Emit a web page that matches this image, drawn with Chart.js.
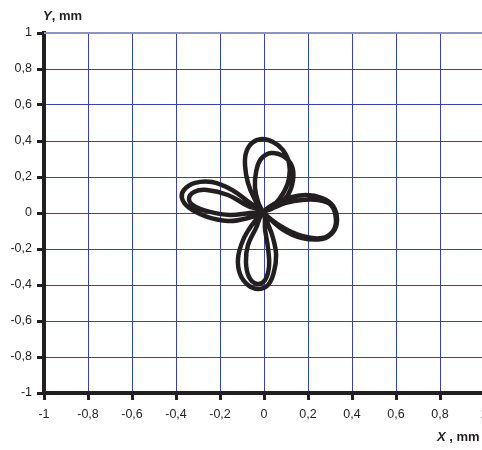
<!DOCTYPE html>
<html>
<head>
<meta charset="utf-8">
<script src="https://cdn.jsdelivr.net/npm/chart.js@4/dist/chart.umd.min.js"></script>
<style>
  html, body { margin: 0; padding: 0; overflow: hidden; background: #fff; }
  #wrap { width: 500px; height: 450px; }
</style>
</head>
<body>
<div id="wrap"><canvas id="c" width="500" height="450"></canvas></div>
<script>
// Tick positions shared by both axes (mm)
const axisTicks = [-1, -0.8, -0.6, -0.4, -0.2, 0, 0.2, 0.4, 0.6, 0.8, 1];

// First pass of the trajectory: right, bottom, left, top petals (mm)
const pass1X = [-0.005,
  0.082, 0.173, 0.264, 0.314, 0.332, 0.314, 0.264, 0.191, 0.109, 0.045, -0.005,
  -0.055, -0.095, -0.118, -0.109, -0.073, -0.027, 0.018, 0.045, 0.055, 0.041, 0.018, -0.005,
  -0.064, -0.145, -0.236, -0.314, -0.364, -0.373, -0.345, -0.268, -0.164, -0.073, -0.005,
  0.045, 0.091, 0.114, 0.114, 0.086, 0.041, -0.009, -0.055, -0.082, -0.086, -0.073, -0.045, -0.005];
const pass1Y = [0.005,
  -0.089, -0.139, -0.144, -0.106, -0.039, 0.039, 0.083, 0.100, 0.083, 0.050, 0.005,
  -0.067, -0.150, -0.250, -0.339, -0.400, -0.422, -0.400, -0.328, -0.233, -0.139, -0.061, 0.005,
  0.056, 0.128, 0.172, 0.167, 0.128, 0.083, 0.033, -0.017, -0.044, -0.028, 0.005,
  0.044, 0.117, 0.194, 0.278, 0.350, 0.394, 0.411, 0.389, 0.333, 0.261, 0.167, 0.083, 0.005];

// Second pass: same petal order, slightly shifted loops (mm)
const pass2X = [
  0.082, 0.173, 0.264, 0.314, 0.327, 0.305, 0.245, 0.173, 0.100, 0.041, -0.005,
  -0.036, -0.073, -0.082, -0.068, -0.032, 0.005, 0.023, 0.018, 0.005, -0.005,
  -0.073, -0.164, -0.259, -0.318, -0.341, -0.318, -0.245, -0.155, -0.064, -0.005,
  0.064, 0.109, 0.132, 0.127, 0.086, 0.032, -0.014, -0.036, -0.041, -0.027, -0.005];
const pass2Y = [
  -0.078, -0.128, -0.139, -0.100, -0.033, 0.044, 0.072, 0.072, 0.056, 0.028, 0.005,
  -0.083, -0.178, -0.272, -0.356, -0.394, -0.372, -0.294, -0.194, -0.094, 0.005,
  0.039, 0.100, 0.128, 0.117, 0.078, 0.039, 0.006, -0.011, 0.000, 0.005,
  0.044, 0.100, 0.183, 0.261, 0.317, 0.333, 0.300, 0.228, 0.144, 0.061, 0.005];

const ink = '#231f20';
const gridBlue = '#3444a8';

const trace = pass1X.map((x, i) => ({ x, y: pass1Y[i] }))
  .concat(pass2X.map((x, i) => ({ x, y: pass2Y[i] })));

const fmt = v => {
  const r = Math.round(v * 10) / 10;
  return r === 0 ? '0' : String(r).replace('.', ',');
};

// Axis captions with the italic variable letter, plus the light frame line on top
const captions = {
  id: 'captions',
  beforeDatasetsDraw(chart) {
    const { ctx, chartArea } = chart;
    ctx.save();
    ctx.strokeStyle = '#8f96bb';
    ctx.lineWidth = 2;
    ctx.beginPath();
    ctx.moveTo(chartArea.left, chartArea.top);
    ctx.lineTo(chartArea.right, chartArea.top);
    ctx.stroke();
    ctx.restore();
  },
  afterDraw(chart) {
    const ctx = chart.ctx;
    ctx.save();
    ctx.fillStyle = ink;
    ctx.textBaseline = 'alphabetic';
    ctx.textAlign = 'left';
    const put = (x, y, parts) => {
      let cx = x;
      parts.forEach(([font, txt]) => {
        ctx.font = font;
        ctx.fillText(txt, cx, y);
        cx += ctx.measureText(txt).width;
      });
    };
    put(43, 20, [['italic bold 13px "Liberation Sans", Arial', 'Y'], ['bold 13px "Liberation Sans", Arial', ', mm']]);
    put(437, 441, [['italic bold 13px "Liberation Sans", Arial', 'X'], ['bold 13px "Liberation Sans", Arial', ' , mm']]);
    ctx.restore();
  }
};

const scaleOpts = (isX) => ({
  type: 'linear',
  position: isX ? 'bottom' : 'left',
  min: -1,
  max: 1,
  afterBuildTicks: s => { s.ticks = axisTicks.map(v => ({ value: v })); },
  afterFit: s => { if (isX) s.height = 57; else s.width = 44; },
  ticks: {
    autoSkip: false,
    maxRotation: 0,
    padding: isX ? 7 : 5,
    color: ink,
    font: { family: '"Liberation Sans", Arial', size: 12.5 },
    callback: v => fmt(v)
  },
  grid: {
    color: gridBlue,
    lineWidth: 1,
    drawTicks: true,
    tickLength: 7,
    tickWidth: 3,
    tickColor: ink
  },
  border: { display: true, color: ink, width: 4 }
});

new Chart(document.getElementById('c'), {
  type: 'scatter',
  data: {
    datasets: [{
      data: trace,
      showLine: true,
      borderColor: ink,
      borderWidth: 4.5,
      pointRadius: 0,
      tension: 0.4,
      fill: false
    }]
  },
  options: {
    responsive: false,
    animation: false,
    devicePixelRatio: 1,
    layout: { padding: { top: 33, right: 16, bottom: 0, left: 0 } },
    plugins: { legend: { display: false }, tooltip: { enabled: false } },
    scales: { x: scaleOpts(true), y: scaleOpts(false) }
  },
  plugins: [captions]
});
</script>
</body>
</html>
